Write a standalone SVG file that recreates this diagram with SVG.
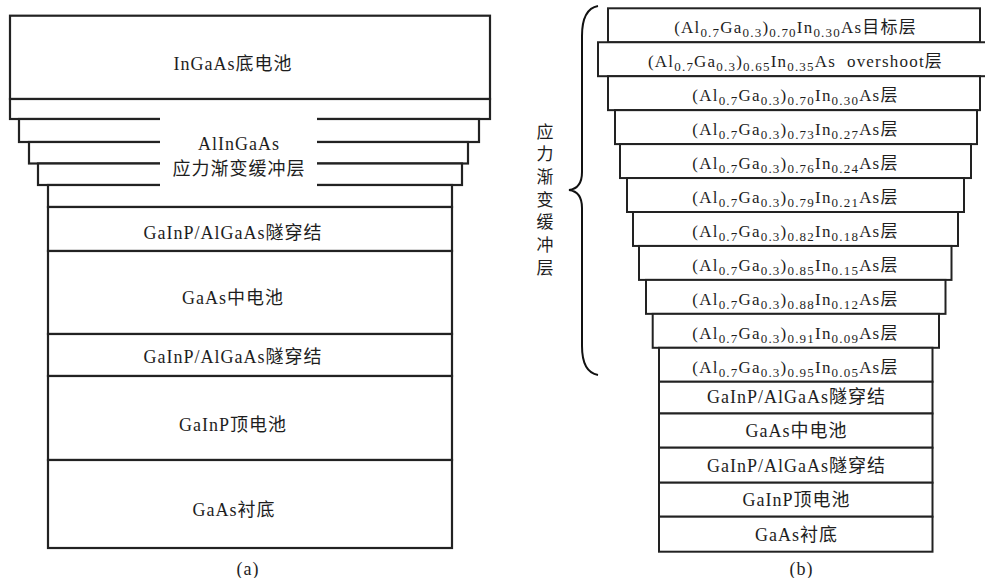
<svg xmlns="http://www.w3.org/2000/svg" width="985" height="578" viewBox="0 0 985 578">
<style>
  rect.l { fill: #fff; stroke: #222; stroke-width: 2.2; }
  rect.r { fill: #fff; stroke: #222; stroke-width: 2; }
  text { font-family: "Liberation Serif", "Times New Roman", serif; fill: #1e1e1e; text-anchor: middle; }
  tspan.c { font-family: "Noto Sans CJK SC", "Noto Sans CJK TC", sans-serif; }
  .t18 { font-size: 18px; letter-spacing: 1px; }
  .t17 { font-size: 17px; letter-spacing: 1.2px; }
  .s { font-size: 13px; }
  .v { font-family: "Noto Sans CJK SC", "Noto Sans CJK TC", sans-serif; font-size: 17px; }
  .brace { fill: none; stroke: #111; stroke-width: 2; }
</style>
<rect width="985" height="578" fill="#fff"/>

<!-- Panel (a) -->
<g id="a-ingaas-bottom-cell">
  <rect class="l" x="10" y="15.7" width="480" height="83.3"/>
  <text class="t18" x="233" y="70">InGaAs<tspan class="c">底电池</tspan></text>
</g>
<g id="a-buffer">
  <rect class="l" x="10" y="99" width="480" height="20"/>
  <rect class="l" x="19" y="119" width="460" height="23"/>
  <rect class="l" x="29" y="142" width="439" height="21.5"/>
  <rect class="l" x="38" y="163.5" width="424" height="21.5"/>
  <rect class="l" x="48" y="185" width="404" height="22"/>
  <rect x="160" y="112" width="157" height="80" fill="#fff"/>
  <text class="t18" x="239" y="150">AlInGaAs</text>
  <text class="t18" x="239" y="175"><tspan class="c">应力渐变缓冲层</tspan></text>
</g>
<g id="a-tunnel1">
  <rect class="l" x="48" y="207" width="404" height="44"/>
  <text class="t18" x="233" y="239">GaInP/AlGaAs<tspan class="c">隧穿结</tspan></text>
</g>
<g id="a-gaas-middle">
  <rect class="l" x="48" y="251" width="404" height="83"/>
  <text class="t18" x="233" y="304">GaAs<tspan class="c">中电池</tspan></text>
</g>
<g id="a-tunnel2">
  <rect class="l" x="48" y="334" width="404" height="42"/>
  <text class="t18" x="233" y="363">GaInP/AlGaAs<tspan class="c">隧穿结</tspan></text>
</g>
<g id="a-gainp-top">
  <rect class="l" x="48" y="376" width="404" height="84"/>
  <text class="t18" x="233" y="431">GaInP<tspan class="c">顶电池</tspan></text>
</g>
<g id="a-substrate">
  <rect class="l" x="48" y="460" width="404" height="88"/>
  <text class="t18" x="234" y="516">GaAs<tspan class="c">衬底</tspan></text>
</g>
<text class="t18" x="248" y="575">(a)</text>

<!-- Panel (b) -->
<g id="b-target">
  <rect class="r" x="608" y="8.3" width="372" height="33.95"/>
  <text class="t17" x="795.5" y="33.3">(Al<tspan class="s" dy="4">0.7</tspan><tspan dy="-4">Ga</tspan><tspan class="s" dy="4">0.3</tspan><tspan dy="-4">)</tspan><tspan class="s" dy="4">0.70</tspan><tspan dy="-4">In</tspan><tspan class="s" dy="4">0.30</tspan><tspan dy="-4">As</tspan><tspan class="c">目标层</tspan></text>
</g>
<g id="b-overshoot">
  <rect class="r" x="598" y="42.25" width="395" height="33.95"/>
  <text class="t17" x="795.5" y="67.25">(Al<tspan class="s" dy="4">0.7</tspan><tspan dy="-4">Ga</tspan><tspan class="s" dy="4">0.3</tspan><tspan dy="-4">)</tspan><tspan class="s" dy="4">0.65</tspan><tspan dy="-4">In</tspan><tspan class="s" dy="4">0.35</tspan><tspan dy="-4">As&#160; overshoot</tspan><tspan class="c">层</tspan></text>
</g>
<g id="b-layer-070">
  <rect class="r" x="608" y="76.2" width="372" height="33.95"/>
  <text class="t17" x="795.5" y="101.2">(Al<tspan class="s" dy="4">0.7</tspan><tspan dy="-4">Ga</tspan><tspan class="s" dy="4">0.3</tspan><tspan dy="-4">)</tspan><tspan class="s" dy="4">0.70</tspan><tspan dy="-4">In</tspan><tspan class="s" dy="4">0.30</tspan><tspan dy="-4">As</tspan><tspan class="c">层</tspan></text>
</g>
<g id="b-layer-073">
  <rect class="r" x="615" y="110.15" width="362" height="33.95"/>
  <text class="t17" x="795.5" y="135.15">(Al<tspan class="s" dy="4">0.7</tspan><tspan dy="-4">Ga</tspan><tspan class="s" dy="4">0.3</tspan><tspan dy="-4">)</tspan><tspan class="s" dy="4">0.73</tspan><tspan dy="-4">In</tspan><tspan class="s" dy="4">0.27</tspan><tspan dy="-4">As</tspan><tspan class="c">层</tspan></text>
</g>
<g id="b-layer-076">
  <rect class="r" x="620" y="144.1" width="351" height="33.95"/>
  <text class="t17" x="795.5" y="169.1">(Al<tspan class="s" dy="4">0.7</tspan><tspan dy="-4">Ga</tspan><tspan class="s" dy="4">0.3</tspan><tspan dy="-4">)</tspan><tspan class="s" dy="4">0.76</tspan><tspan dy="-4">In</tspan><tspan class="s" dy="4">0.24</tspan><tspan dy="-4">As</tspan><tspan class="c">层</tspan></text>
</g>
<g id="b-layer-079">
  <rect class="r" x="627" y="178.05" width="337" height="33.95"/>
  <text class="t17" x="795.5" y="203.05">(Al<tspan class="s" dy="4">0.7</tspan><tspan dy="-4">Ga</tspan><tspan class="s" dy="4">0.3</tspan><tspan dy="-4">)</tspan><tspan class="s" dy="4">0.79</tspan><tspan dy="-4">In</tspan><tspan class="s" dy="4">0.21</tspan><tspan dy="-4">As</tspan><tspan class="c">层</tspan></text>
</g>
<g id="b-layer-082">
  <rect class="r" x="633" y="212" width="325" height="33.95"/>
  <text class="t17" x="795.5" y="237">(Al<tspan class="s" dy="4">0.7</tspan><tspan dy="-4">Ga</tspan><tspan class="s" dy="4">0.3</tspan><tspan dy="-4">)</tspan><tspan class="s" dy="4">0.82</tspan><tspan dy="-4">In</tspan><tspan class="s" dy="4">0.18</tspan><tspan dy="-4">As</tspan><tspan class="c">层</tspan></text>
</g>
<g id="b-layer-085">
  <rect class="r" x="639" y="245.95" width="312.5" height="33.95"/>
  <text class="t17" x="795.5" y="270.95">(Al<tspan class="s" dy="4">0.7</tspan><tspan dy="-4">Ga</tspan><tspan class="s" dy="4">0.3</tspan><tspan dy="-4">)</tspan><tspan class="s" dy="4">0.85</tspan><tspan dy="-4">In</tspan><tspan class="s" dy="4">0.15</tspan><tspan dy="-4">As</tspan><tspan class="c">层</tspan></text>
</g>
<g id="b-layer-088">
  <rect class="r" x="646" y="279.9" width="299.5" height="33.95"/>
  <text class="t17" x="795.5" y="304.9">(Al<tspan class="s" dy="4">0.7</tspan><tspan dy="-4">Ga</tspan><tspan class="s" dy="4">0.3</tspan><tspan dy="-4">)</tspan><tspan class="s" dy="4">0.88</tspan><tspan dy="-4">In</tspan><tspan class="s" dy="4">0.12</tspan><tspan dy="-4">As</tspan><tspan class="c">层</tspan></text>
</g>
<g id="b-layer-091">
  <rect class="r" x="652.7" y="313.85" width="286.3" height="33.95"/>
  <text class="t17" x="795.5" y="338.85">(Al<tspan class="s" dy="4">0.7</tspan><tspan dy="-4">Ga</tspan><tspan class="s" dy="4">0.3</tspan><tspan dy="-4">)</tspan><tspan class="s" dy="4">0.91</tspan><tspan dy="-4">In</tspan><tspan class="s" dy="4">0.09</tspan><tspan dy="-4">As</tspan><tspan class="c">层</tspan></text>
</g>
<g id="b-layer-095">
  <rect class="r" x="659" y="347.8" width="273.5" height="33.95"/>
  <text class="t17" x="795.5" y="372.8">(Al<tspan class="s" dy="4">0.7</tspan><tspan dy="-4">Ga</tspan><tspan class="s" dy="4">0.3</tspan><tspan dy="-4">)</tspan><tspan class="s" dy="4">0.95</tspan><tspan dy="-4">In</tspan><tspan class="s" dy="4">0.05</tspan><tspan dy="-4">As</tspan><tspan class="c">层</tspan></text>
</g>
<g id="b-tunnel1">
  <rect class="r" x="659" y="381.75" width="273.5" height="31.75"/>
  <text class="t18" x="796.5" y="403">GaInP/AlGaAs<tspan class="c">隧穿结</tspan></text>
</g>
<g id="b-gaas-middle">
  <rect class="r" x="659" y="413.5" width="273.5" height="34.2"/>
  <text class="t18" x="796.5" y="437">GaAs<tspan class="c">中电池</tspan></text>
</g>
<g id="b-tunnel2">
  <rect class="r" x="659" y="447.7" width="273.5" height="35"/>
  <text class="t18" x="796.5" y="471.5">GaInP/AlGaAs<tspan class="c">隧穿结</tspan></text>
</g>
<g id="b-gainp-top">
  <rect class="r" x="659" y="482.7" width="273.5" height="34"/>
  <text class="t18" x="796.5" y="506">GaInP<tspan class="c">顶电池</tspan></text>
</g>
<g id="b-substrate">
  <rect class="r" x="659" y="516.7" width="273.5" height="35"/>
  <text class="t18" x="796.5" y="541">GaAs<tspan class="c">衬底</tspan></text>
</g>
<text class="t18" x="801.5" y="575">(b)</text>

<g id="connectors">
  <path class="brace" d="M598,6 C587,8 582,18 582,36 L582,172 C582,184 577,189 569,190 C577,191 582,196 582,208 L582,346 C582,364 587,373 598,375"/>
</g>
<g id="brace-label">
  <text class="v" x="545" y="137.5">应</text>
  <text class="v" x="545" y="160.2">力</text>
  <text class="v" x="545" y="182.9">渐</text>
  <text class="v" x="545" y="205.6">变</text>
  <text class="v" x="545" y="228.3">缓</text>
  <text class="v" x="545" y="251">冲</text>
  <text class="v" x="545" y="273.7">层</text>
</g>
</svg>
